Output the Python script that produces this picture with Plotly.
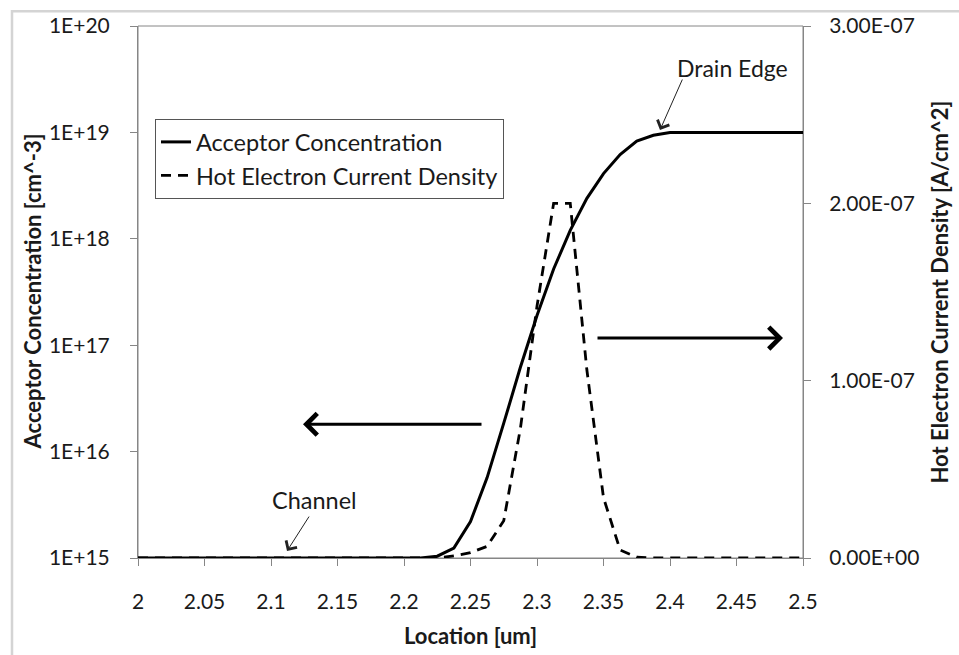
import plotly.graph_objects as go

# ---- data ----
location = [2.0, 2.05, 2.1, 2.15, 2.2, 2.2125, 2.225, 2.2375, 2.25, 2.2625, 2.275,
            2.2875, 2.3, 2.3125, 2.325, 2.3375, 2.35, 2.3625, 2.375, 2.3875, 2.4,
            2.45, 2.5]
acceptor = [1e15, 1e15, 1e15, 1e15, 1e15, 1.0e15, 1.04e15, 1.24e15, 2.2e15, 5.7e15,
            1.85e16, 6.2e16, 1.9e17, 5.2e17, 1.2e18, 2.4e18, 4.1e18, 6.2e18, 8.3e18,
            9.4e18, 1e19, 1e19, 1e19]
hot_current = [0, 0, 0, 0, 0, 0, 0, 1.2e-9, 3.0e-9, 6.6e-9, 2.1e-8,
               7.3e-8, 1.42e-7, 2.0e-7, 2.0e-7, 1.06e-7, 3.4e-8, 4.5e-9, 5e-10,
               0, 0, 0, 0]

x_ticks = [2.0, 2.05, 2.1, 2.15, 2.2, 2.25, 2.3, 2.35, 2.4, 2.45, 2.5]
x_ticklabels = ["2", "2.05", "2.1", "2.15", "2.2", "2.25", "2.3", "2.35", "2.4", "2.45", "2.5"]
y1_ticks = [1e15, 1e16, 1e17, 1e18, 1e19, 1e20]
y1_ticklabels = ["1E+15", "1E+16", "1E+17", "1E+18", "1E+19", "1E+20"]
y2_ticks = [0, 1e-7, 2e-7, 3e-7]
y2_ticklabels = ["0.00E+00", "1.00E-07", "2.00E-07", "3.00E-07"]

FONT = "Lato"
AX = "#868686"
TXT = "#1a1a1a"

fig = go.Figure()
fig.add_trace(go.Scatter(x=location, y=acceptor, mode="lines",
                         name="Acceptor Concentration",
                         line=dict(color="black", width=3)))
fig.add_trace(go.Scatter(x=location, y=hot_current, mode="lines",
                         name="Hot Electron Current Density", yaxis="y2",
                         line=dict(color="black", width=2.8, dash="10px,7px")))

L, R, T, B = 138, 156, 21, 97
W, H = 959, 655
pw, ph = W - L - R, H - T - B

def px(xp):
    return (xp - L) / pw

def py(yp):
    return (H - B - yp) / ph

axis_common = dict(showgrid=False, zeroline=False, showline=True, linecolor=AX,
                   linewidth=1, ticks="outside", ticklen=7, tickcolor=AX,
                   tickfont=dict(family=FONT, size=21, color=TXT))

fig.update_layout(
    width=W, height=H,
    margin=dict(l=L, r=R, t=T, b=B),
    paper_bgcolor="white", plot_bgcolor="white",
    font=dict(family=FONT, size=21, color=TXT),
    xaxis=dict(range=[2, 2.5], tickvals=x_ticks, ticktext=x_ticklabels,
               ticklabelstandoff=18, **axis_common),
    yaxis=dict(type="log", range=[15, 20], tickvals=y1_ticks, ticktext=y1_ticklabels,
               ticklabelstandoff=16, **axis_common),
    yaxis2=dict(overlaying="y", side="right", range=[0, 3e-7], tickvals=y2_ticks,
                ticktext=y2_ticklabels, ticklabelstandoff=14, **axis_common),
    showlegend=True,
    legend=dict(x=px(155), y=py(115), xanchor="left", yanchor="top",
                bordercolor="#555555", borderwidth=1, bgcolor="white",
                tracegroupgap=0,
                font=dict(family=FONT, size=23.5, color=TXT)),
)

shapes = [
    # plot-area frame
    dict(type="rect", xref="paper", yref="paper", x0=0, x1=1, y0=0, y1=1,
         line=dict(color=AX, width=1), layer="below"),
    # chart outer border (partly outside the picture)
    dict(type="rect", xref="paper", yref="paper", x0=px(12), x1=px(990),
         y0=py(700), y1=py(6), line=dict(color="#d4d4d4", width=2.5)),
]
fig.update_layout(shapes=shapes)

def text_ann(xp, yp, text, size, angle=0):
    return dict(xref="paper", yref="paper", x=px(xp), y=py(yp), text=text,
                xanchor="center", yanchor="middle", textangle=angle,
                showarrow=False, font=dict(family=FONT, size=size, color=TXT))

def arrow_ann(tip, tail, width, size, color="black"):
    return dict(xref="paper", yref="paper", x=px(tip[0]), y=py(tip[1]),
                ax=tail[0] - tip[0], ay=tail[1] - tip[1], text="",
                showarrow=True, arrowhead=4, arrowsize=size,
                arrowwidth=width, arrowcolor=color)

ann = [
    arrow_ann((303, 423), (483, 423), 3, 1.4),
    arrow_ann((783, 336), (596, 336), 3, 1.4),
    arrow_ann((660, 126), (683, 74), 1, 2.5, "#222"),
    text_ann(732, 63, "Drain Edge", 23),
    arrow_ann((287, 551), (310, 515), 1, 2.5, "#222"),
    text_ann(314, 499, "Channel", 23.5),
    text_ann(470, 636, "<b>Location [um]</b>", 22),
    text_ann(33, 289, "<b>Acceptor Concentration [cm^-3]</b>", 22, -90),
    text_ann(940, 289, "<b>Hot Electron Current Density [A/cm^2]</b>", 22, -90),
]
fig.update_layout(annotations=ann)

fig.write_html("out.html")
